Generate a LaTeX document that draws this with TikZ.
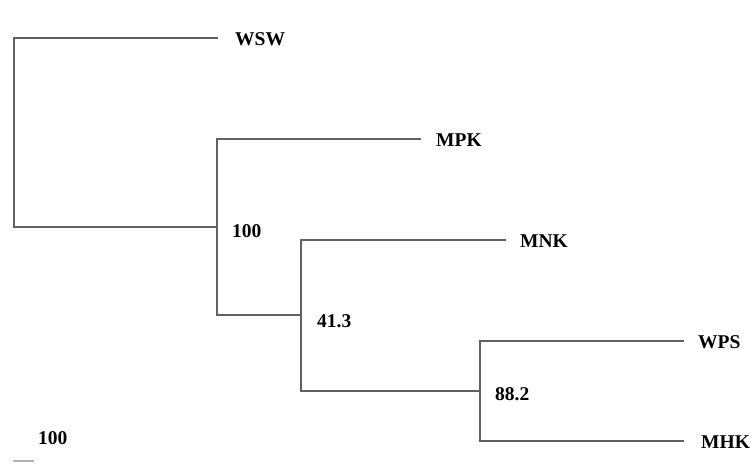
\documentclass[tikz,border=0pt]{standalone}
\usepackage{fontspec}
\setmainfont{Liberation Serif}
\begin{document}
\begin{tikzpicture}[x=1pt,y=-1pt,
  branch/.style={draw=black!62,line width=2pt,line cap=rect},
  taxon/.style={anchor=west,inner sep=0pt,font=\fontsize{19.5}{21}\selectfont\bfseries},
  support/.style={anchor=west,inner sep=0pt,font=\fontsize{19.5}{21}\selectfont\bfseries}]
\useasboundingbox[fill=white] (0,0) rectangle (752,468);
% internal coordinates
\coordinate (rt) at (14,38);
\coordinate (rb) at (14,227);
\coordinate (at) at (217,139);
\coordinate (ab) at (217,315);
\coordinate (am) at (217,227);
\coordinate (bt) at (301,240);
\coordinate (bb) at (301,391);
\coordinate (bm) at (301,315);
\coordinate (ct) at (480,341);
\coordinate (cb) at (480,441);
\coordinate (cm) at (480,391);
% leaf ends
\coordinate (e1) at (217,38);
\coordinate (e2) at (420,139);
\coordinate (e3) at (505,240);
\coordinate (e4) at (683,341);
\coordinate (e5) at (683,441);
% labels
\node[taxon] (wsw) at (235,39) {WSW};
\node[taxon] (mpk) at (436,140) {MPK};
\node[taxon] (mnk) at (520,241) {MNK};
\node[taxon] (wps) at (698,342) {WPS};
\node[taxon] (mhk) at (701,442) {MHK};
\node[support] (s1) at (232,231) {100};
\node[support] (s2) at (317,321) {41.3};
\node[support] (s3) at (495,394) {88.2};
\node[support] (sc) at (38,438) {100};
\coordinate (sb1) at (13,461);
\coordinate (sb2) at (34,461);
% branches
\draw[branch] (e1) -- (rt) -- (rb) -- (am);
\draw[branch] (e2) -- (at) -- (ab) -- (bm);
\draw[branch] (e3) -- (bt) -- (bb) -- (cm);
\draw[branch] (e4) -- (ct) -- (cb) -- (e5);
\draw[draw=black!30,line width=2pt] (sb1) -- (sb2);
\end{tikzpicture}
\end{document}
